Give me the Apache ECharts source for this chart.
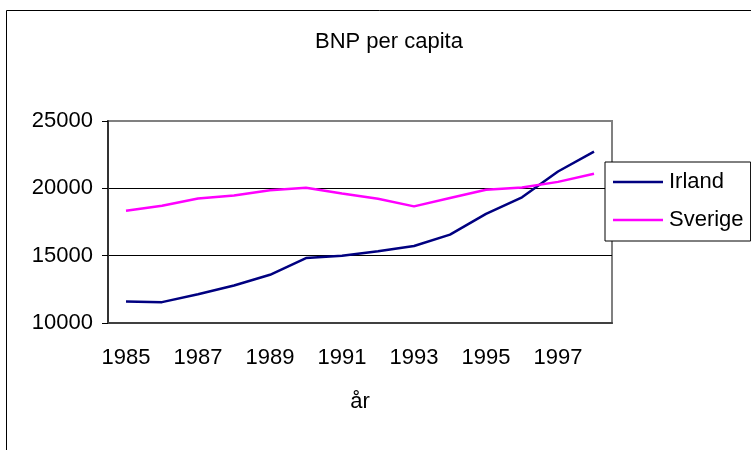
<!DOCTYPE html>
<html>
<head>
<meta charset="utf-8">
<script src="https://cdn.jsdelivr.net/npm/echarts@6/dist/echarts.min.js"></script>
<style>
  html, body { margin: 0; padding: 0; background: #fff; }
  #chart { width: 751px; height: 450px; }
</style>
</head>
<body>
<div id="chart"></div>
<script>
  // år 1985 - 1998
  var years = ['1985', '1986', '1987', '1988', '1989', '1990', '1991',
               '1992', '1993', '1994', '1995', '1996', '1997', '1998'];
  var irland = [11600, 11550, 12130, 12780, 13580, 14820, 15000,
                15330, 15720, 16560, 18100, 19330, 21250, 22730];
  var sverige = [18340, 18710, 19240, 19470, 19850, 20040, 19620,
                 19220, 18660, 19280, 19900, 20060, 20480, 21080];
  var yTicks = [10000, 15000, 20000, 25000];

  var font = '"Liberation Sans", Arial, sans-serif';
  var fs = 22;

  var chart = echarts.init(document.getElementById('chart'));

  chart.setOption({
    animation: false,
    backgroundColor: '#fff',
    textStyle: { fontFamily: font },
    title: {
      text: 'BNP per capita',
      left: 310,
      top: 26,
      textStyle: { fontFamily: font, fontSize: fs, fontWeight: 'normal', color: '#000' }
    },
    graphic: [{
      type: 'rect',
      shape: { x: 6.5, y: 10.5, width: 800, height: 500 },
      style: { fill: 'none', stroke: '#000', lineWidth: 1 },
      silent: true
    }],
    grid: {
      left: 108,
      top: 121,
      width: 504,
      height: 202,
      show: true,
      borderColor: '#808080',
      borderWidth: 2,
      backgroundColor: '#fff'
    },
    legend: {
      orient: 'vertical',
      left: 605,
      top: 162,
      padding: [9, 7, 10, 8],
      icon: 'rect',
      itemWidth: 50,
      itemHeight: 2.5,
      itemGap: 16,
      backgroundColor: '#fff',
      borderColor: '#000',
      borderWidth: 1,
      textStyle: { fontFamily: font, fontSize: fs, color: '#000', lineHeight: 22, padding: [0, 0, 0, 1] },
      data: ['Irland', 'Sverige']
    },
    xAxis: {
      type: 'category',
      data: years,
      boundaryGap: true,
      name: 'år',
      nameLocation: 'middle',
      nameGap: 68,
      nameTextStyle: { fontFamily: font, fontSize: fs, color: '#000' },
      axisLine: { lineStyle: { color: '#404040', width: 2 } },
      axisTick: { interval: 0, length: 7, lineStyle: { color: '#000', width: 1 } },
      axisLabel: { interval: 1, margin: 24, fontSize: fs, color: '#000', fontFamily: font },
      splitLine: { show: false }
    },
    yAxis: {
      type: 'value',
      min: yTicks[0],
      max: yTicks[yTicks.length - 1],
      interval: 5000,
      axisLine: { show: true, lineStyle: { color: '#333', width: 2 } },
      axisTick: { show: true, length: 6, lineStyle: { color: '#000', width: 1 } },
      axisLabel: {
        margin: 15, fontSize: fs, color: '#000', fontFamily: font,
        formatter: function (v) { return String(v); }
      },
      splitLine: { show: true, lineStyle: { color: ['#000', '#000', '#000', '#808080'], width: 1 } }
    },
    series: [
      {
        name: 'Irland',
        type: 'line',
        data: irland,
        symbol: 'none',
        color: '#000080',
        lineStyle: { color: '#000080', width: 2.5 }
      },
      {
        name: 'Sverige',
        type: 'line',
        data: sverige,
        symbol: 'none',
        color: '#FF00FF',
        lineStyle: { color: '#FF00FF', width: 2.5 }
      }
    ]
  });
</script>
</body>
</html>
